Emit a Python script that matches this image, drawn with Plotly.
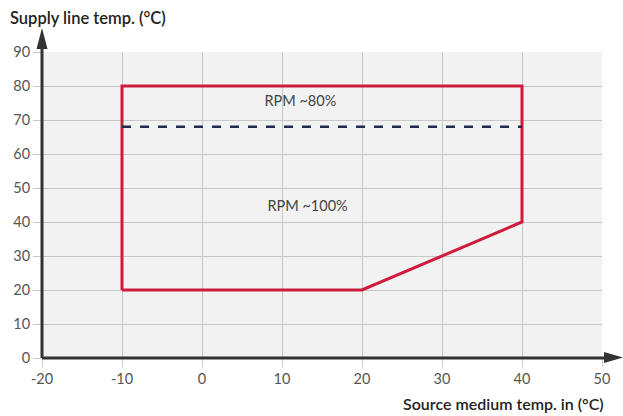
import plotly.graph_objects as go

# Operating envelope (source medium temp, supply line temp)
envelope_x = [-10, -10, 40, 40, 20, -10]
envelope_y = [20, 80, 80, 40, 20, 20]

# Reduced-speed boundary
rpm_limit_x = [-10, 40]
rpm_limit_y = [68, 68]

# Region labels
label_text = ["RPM ~80%", "RPM ~100%"]
label_x = [12.3, 13.2]
label_y = [75.3, 44.3]

x_ticks = [-20, -10, 0, 10, 20, 30, 40, 50]
y_ticks = [0, 10, 20, 30, 40, 50, 60, 70, 80, 90]

FONT = "Lato, 'Open Sans', sans-serif"
AXIS_COLOR = "#333333"

fig = go.Figure()
fig.add_trace(go.Scatter(
    x=envelope_x, y=envelope_y, mode="lines",
    line=dict(color="#d01c3c", width=3), hoverinfo="skip", cliponaxis=False,
))
fig.add_trace(go.Scatter(
    x=rpm_limit_x, y=rpm_limit_y, mode="lines",
    line=dict(color="#1f2b4c", width=2.5, dash="dash"), hoverinfo="skip",
))
fig.add_trace(go.Scatter(
    x=label_x, y=label_y, mode="text", text=label_text,
    textfont=dict(family=FONT, size=14.5, color="#444444"), hoverinfo="skip",
))

W, H = 623, 416
L, R, T, B = 42, 21, 52, 58
pw, ph = W - L - R, H - T - B


def px(xp):
    return (xp - L) / pw


def py(yp):
    return (H - B - yp) / ph


shapes = [
    # arrow heads on the axes
    dict(type="path", xref="paper", yref="paper",
         path=f"M {px(36.5)} {py(49)} L {px(42)} {py(28)} L {px(47.5)} {py(49)} Z",
         fillcolor=AXIS_COLOR, line=dict(width=0), layer="above"),
    dict(type="path", xref="paper", yref="paper",
         path=f"M {px(604)} {py(352)} L {px(623)} {py(357.5)} L {px(604)} {py(363)} Z",
         fillcolor=AXIS_COLOR, line=dict(width=0), layer="above"),
    # axis lines
    dict(type="line", xref="paper", yref="paper", x0=0, x1=px(606), y0=0, y1=0,
         line=dict(color=AXIS_COLOR, width=3), layer="above"),
    dict(type="line", xref="paper", yref="paper", x0=0, x1=0, y0=0, y1=py(46),
         line=dict(color=AXIS_COLOR, width=3), layer="above"),
]

annotations = [
    dict(text="Supply line temp. (°C)", xref="paper", yref="paper",
         x=px(8), y=py(18), xanchor="left", yanchor="middle", showarrow=False,
         font=dict(family=FONT, size=16.5, color="#222222", weight=600)),
    dict(text="Source medium temp. in (°C)", xref="paper", yref="paper",
         x=px(606), y=py(403), xanchor="right", yanchor="middle", showarrow=False,
         font=dict(family=FONT, size=16, color="#222222", weight=600)),
]

fig.update_layout(
    width=W, height=H,
    margin=dict(l=L, r=R, t=T, b=B),
    paper_bgcolor="white", plot_bgcolor="#f2f2f2",
    showlegend=False,
    shapes=shapes, annotations=annotations,
    font=dict(family=FONT),
)
fig.update_xaxes(
    range=[-20, 50], tickvals=x_ticks, ticktext=[str(v) for v in x_ticks],
    showgrid=True, gridcolor="#c8c8c8", gridwidth=1, zeroline=False,
    ticks="outside", ticklen=8, tickcolor="#c8c8c8", tickwidth=1,
    tickfont=dict(family=FONT, size=14.5, color="#555555"), showline=False,
)
fig.update_yaxes(
    range=[0, 90], tickvals=y_ticks, ticktext=[str(v) for v in y_ticks],
    showgrid=True, gridcolor="#c8c8c8", gridwidth=1, zeroline=False,
    ticks="outside", ticklen=8, tickcolor="#c8c8c8", tickwidth=1,
    tickfont=dict(family=FONT, size=14.5, color="#555555"), showline=False,
)

fig.write_html("out.html")
